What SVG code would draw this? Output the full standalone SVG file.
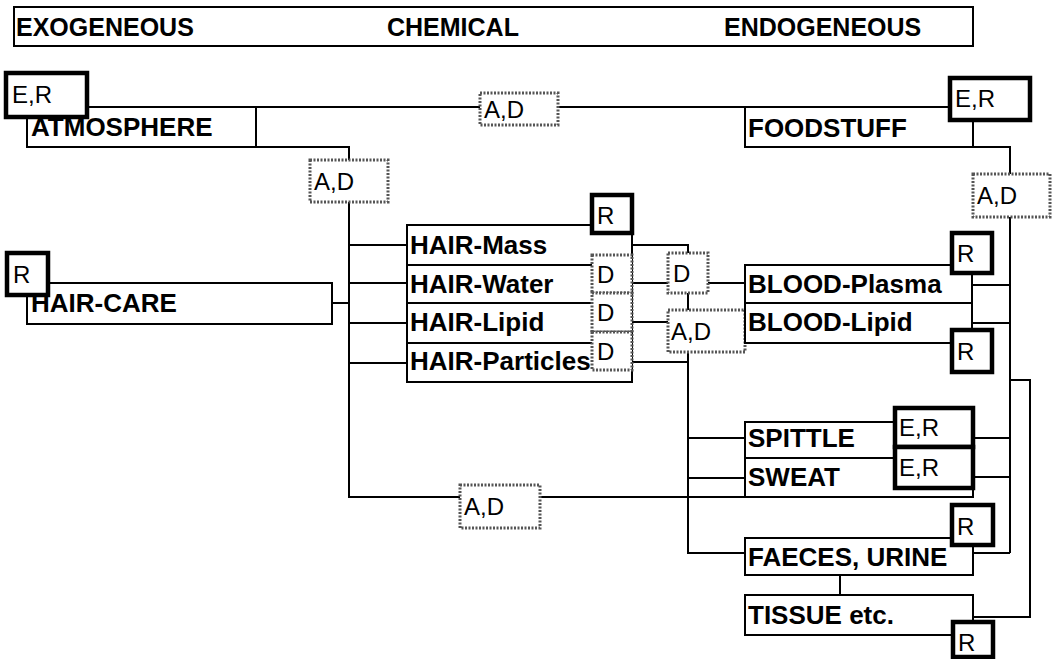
<svg xmlns="http://www.w3.org/2000/svg" width="1058" height="659" viewBox="0 0 1058 659">
<style>
.bg{fill:#fff}
.box{fill:#fff;stroke:#000;stroke-width:2}
.thick{fill:#fff;stroke:#000;stroke-width:4.5}
.dot{fill:#fff;stroke:#555;stroke-width:3;stroke-dasharray:2 1.5}
.sep{stroke:#000;stroke-width:2}
.lbl{font-family:"Liberation Sans",Arial,sans-serif;font-weight:bold;font-size:26px;fill:#000}
.ttl{font-family:"Liberation Sans",Arial,sans-serif;font-weight:bold;font-size:25px;fill:#000}
.sm{font-family:"Liberation Sans",Arial,sans-serif;font-size:24px;fill:#000}
.con{fill:none;stroke:#000;stroke-width:2}
</style>
<rect class="bg" width="1058" height="659"/>
<g id="connectors" class="con">
<path d="M87,107 H950"/>
<path d="M256,147 H349 V160"/>
<path d="M349,202 V497 H745"/>
<path d="M349,245 H407 M349,283 H407 M349,323 H407 M349,363 H407"/>
<path d="M332,303 H349"/>
<path d="M632,245 H688 V253"/>
<path d="M632,283 H668 M708,283 H745"/>
<path d="M688,293 V310"/>
<path d="M632,322 H668"/>
<path d="M632,362 H688"/>
<path d="M688,352 V553 H745"/>
<path d="M688,438 H745 M688,478 H745"/>
<path d="M973,120 V147 H1010 V174"/>
<path d="M1010,217 V553"/>
<path d="M972,285 H1010 M972,323 H1010"/>
<path d="M973,438 H1010 M973,477 H1010 M973,553 H1010"/>
<path d="M1010,380 H1030 V617 H973"/>
<path d="M840,575 V595"/>
</g>
<g id="title">
<rect class="box" x="14" y="7" width="959" height="39"/>
<text class="ttl" x="16" y="36">EXOGENEOUS</text>
<text class="ttl" x="387" y="36">CHEMICAL</text>
<text class="ttl" x="724" y="36">ENDOGENEOUS</text>
</g>
<g id="atmosphere">
<rect class="box" x="27" y="107" width="229" height="40"/>
<text class="lbl" x="31" y="136">ATMOSPHERE</text>
</g>
<g id="er-atmosphere">
<rect class="thick" x="6" y="73" width="81" height="44"/>
<text class="sm" x="12" y="103">E,R</text>
</g>
<g id="ad-atmosphere">
<rect class="dot" x="310" y="160" width="78" height="42"/>
<text class="sm" x="314" y="190">A,D</text>
</g>
<g id="ad-top">
<rect class="dot" x="480" y="93" width="78" height="32"/>
<text class="sm" x="484" y="118">A,D</text>
</g>
<g id="foodstuff">
<rect class="box" x="745" y="107" width="228" height="40"/>
<text class="lbl" x="748" y="137">FOODSTUFF</text>
</g>
<g id="er-foodstuff">
<rect class="thick" x="950" y="78" width="80" height="42"/>
<text class="sm" x="955" y="107">E,R</text>
</g>
<g id="ad-foodstuff">
<rect class="dot" x="973" y="174" width="77" height="43"/>
<text class="sm" x="977" y="204">A,D</text>
</g>
<g id="haircare">
<rect class="box" x="27" y="283" width="305" height="41"/>
<text class="lbl" x="31" y="312">HAIR-CARE</text>
</g>
<g id="r-haircare">
<rect class="thick" x="7" y="253" width="41" height="42"/>
<text class="sm" x="13" y="283">R</text>
</g>
<g id="hair">
<rect class="box" x="407" y="225" width="225" height="157"/>
<path class="sep" d="M407,265 H592 M407,303 H592 M407,343 H592"/>
<text class="lbl" x="410" y="254">HAIR-Mass</text>
<text class="lbl" x="410" y="293">HAIR-Water</text>
<text class="lbl" x="410" y="331">HAIR-Lipid</text>
<text class="lbl" x="410" y="370">HAIR-Particles</text>
</g>
<g id="r-hair">
<rect class="thick" x="592" y="195" width="40" height="38"/>
<text class="sm" x="597" y="224">R</text>
</g>
<g id="d-water">
<rect class="dot" x="592" y="255" width="40" height="38"/>
<text class="sm" x="597" y="283">D</text>
</g>
<g id="d-lipid">
<rect class="dot" x="592" y="293" width="40" height="39"/>
<text class="sm" x="597" y="321">D</text>
</g>
<g id="d-particles">
<rect class="dot" x="592" y="332" width="40" height="38"/>
<text class="sm" x="597" y="360">D</text>
</g>
<g id="d-mid">
<rect class="dot" x="668" y="253" width="40" height="40"/>
<text class="sm" x="673" y="282">D</text>
</g>
<g id="ad-mid">
<rect class="dot" x="668" y="310" width="77" height="42"/>
<text class="sm" x="671" y="340">A,D</text>
</g>
<g id="blood">
<rect class="box" x="745" y="265" width="227" height="78"/>
<path class="sep" d="M745,303 H972"/>
<text class="lbl" x="748" y="293">BLOOD-Plasma</text>
<text class="lbl" x="748" y="331">BLOOD-Lipid</text>
</g>
<g id="r-plasma">
<rect class="thick" x="952" y="233" width="40" height="40"/>
<text class="sm" x="957" y="262">R</text>
</g>
<g id="r-lipid">
<rect class="thick" x="952" y="330" width="40" height="42"/>
<text class="sm" x="957" y="360">R</text>
</g>
<g id="spittle-sweat">
<rect class="box" x="745" y="422" width="228" height="75"/>
<path class="sep" d="M745,458 H895"/>
<text class="lbl" x="748" y="447">SPITTLE</text>
<text class="lbl" x="748" y="486">SWEAT</text>
</g>
<g id="er-spittle">
<rect class="thick" x="895" y="408" width="78" height="39"/>
<text class="sm" x="899" y="436">E,R</text>
</g>
<g id="er-sweat">
<rect class="thick" x="895" y="447" width="78" height="41"/>
<text class="sm" x="899" y="476">E,R</text>
</g>
<g id="ad-bottom">
<rect class="dot" x="460" y="485" width="80" height="43"/>
<text class="sm" x="464" y="515">A,D</text>
</g>
<g id="faeces">
<rect class="box" x="745" y="538" width="228" height="37"/>
<text class="lbl" x="748" y="566">FAECES, URINE</text>
</g>
<g id="r-faeces">
<rect class="thick" x="952" y="505" width="41" height="40"/>
<text class="sm" x="957" y="535">R</text>
</g>
<g id="tissue">
<rect class="box" x="745" y="595" width="228" height="40"/>
<text class="lbl" x="748" y="624">TISSUE etc.</text>
</g>
<g id="r-tissue">
<rect class="thick" x="953" y="622" width="40" height="35"/>
<text class="sm" x="958" y="651">R</text>
</g>
</svg>
